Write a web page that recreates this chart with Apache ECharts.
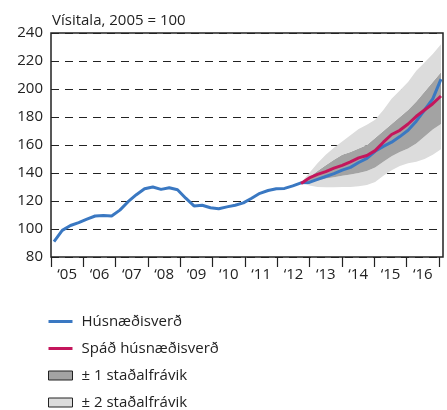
<!DOCTYPE html>
<html>
<head>
<meta charset="utf-8">
<script src="https://cdn.jsdelivr.net/npm/echarts@6/dist/echarts.min.js"></script>
<style>
  html, body { margin: 0; padding: 0; background: #fff; }
  #chart { width: 447px; height: 410px; }
</style>
</head>
<body>
<div id="chart"></div>
<script>
// quarters 2005Q1 .. 2016Q4
const years = ['05', '06', '07', '08', '09', '10', '11', '12', '13', '14', '15', '16'];
const quarters = [];
years.forEach(y => { for (let q = 1; q <= 4; q++) quarters.push('20' + y + 'Q' + q); });

// Húsnæðisverð (actual)
const actual = [
  91, 99, 102.5, 104.5, 107, 109.3, 109.6, 109.3,
  113.5, 119.5, 124.5, 128.7, 130, 128.3, 129.5, 128,
  122, 116.5, 117, 115.2, 114.5, 115.8, 117, 118.7,
  122, 125.5, 127.5, 128.8, 129, 130.8, 133, 133.3,
  135.5, 137.5, 139.5, 142, 144, 147.5, 150.5, 155.5,
  159, 162, 166, 170.5, 177, 185, 193, 207
];

// forecast starts at 2012Q3
const forecastStart = '2012Q3';
const forecast = [
  132.5, 136.5, 139, 141, 143.5, 145.5, 148, 150.8, 152.5,
  156, 162, 167.5, 170.5, 175, 180.5, 185, 189.5, 195
];
const upper2 = [
  133, 140, 147, 153, 158, 162.5, 167, 171.5, 174.5,
  178, 185, 193, 199, 205, 213, 219, 225, 232
];
const upper1 = [
  133, 137, 141.5, 145.5, 149.5, 153, 155, 157.5, 160,
  165, 170, 175, 180, 185, 191, 198, 205, 212
];
const lower1 = [
  133, 133, 134.5, 136, 137, 138, 139, 140, 141.5,
  144, 148, 152, 155, 157.5, 161, 166, 171, 175
];
const lower2 = [
  133, 131, 130, 129.8, 129.8, 130, 130, 130.5, 131.5,
  133.5, 138, 142, 145, 147, 148, 150, 153, 157
];

const yTicks = [80, 100, 120, 140, 160, 180, 200, 220, 240];

const off = quarters.indexOf(forecastStart);
const pad = arr => quarters.map((q, i) => (i < off ? '-' : arr[i - off]));
const diff = (a, b) => a.map((v, i) => +(v - b[i]).toFixed(2));

const FONT = '"Open Sans", sans-serif';
const DARK = '#a3a3a3';
const LIGHT = '#dcdcdc';

const chart = echarts.init(document.getElementById('chart'));
chart.setOption({
  animation: false,
  textStyle: { fontFamily: FONT },
  title: {
    text: 'Vísitala, 2005 = 100',
    left: 47, top: 8,
    textStyle: { fontFamily: FONT, fontSize: 15, fontWeight: 'normal', color: '#222' }
  },
  grid: [
    { left: 51, right: 4, top: 33, bottom: 153, show: true, borderColor: '#222', borderWidth: 1.5 },
    { left: 51, right: 8, top: 33, bottom: 153 },
    { left: 54, right: 6, top: 33, bottom: 153 }
  ],
  xAxis: [
    { gridIndex: 0, type: 'value', min: 0, max: 1, show: false },
    {
      gridIndex: 1, type: 'category', data: years.map(y => '\u2018' + y),
      boundaryGap: true,
      axisLine: { show: false },
      axisTick: { show: true, length: 10, lineStyle: { color: '#222', width: 1.2 } },
      axisLabel: { color: '#222', fontSize: 15, margin: 10, fontFamily: FONT }
    },
    { gridIndex: 2, type: 'category', data: quarters, boundaryGap: false, show: false }
  ],
  yAxis: [
    {
      gridIndex: 0, type: 'value', min: yTicks[0], max: yTicks[yTicks.length - 1], interval: 20,
      axisLine: { show: false }, axisTick: { show: false },
      axisLabel: { color: '#222', fontSize: 15, margin: 8, fontFamily: FONT },
      splitLine: { show: true, lineStyle: { color: '#222', type: [8, 6], width: 1.2 } }
    },
    { gridIndex: 1, type: 'value', min: 80, max: 240, show: false },
    { gridIndex: 2, type: 'value', min: 80, max: 240, show: false }
  ],
  legend: {
    orient: 'vertical', left: 48, top: 314, height: 96, padding: 0,
    itemWidth: 24, itemHeight: 9, itemGap: 12,
    textStyle: { fontSize: 15, lineHeight: 15, color: '#222', fontFamily: FONT, padding: [0, 0, 0, 4] },
    data: [
      { name: 'Húsnæðisverð', icon: 'path://M0,0 h24 v3 h-24 z' },
      { name: 'Spáð húsnæðisverð', icon: 'path://M0,0 h24 v3 h-24 z' },
      { name: '± 1 staðalfrávik', icon: 'rect', itemStyle: { color: DARK, borderColor: '#222', borderWidth: 1 } },
      { name: '± 2 staðalfrávik', icon: 'rect', itemStyle: { color: LIGHT, borderColor: '#222', borderWidth: 1 } }
    ]
  },
  series: [
    {
      type: 'line', xAxisIndex: 2, yAxisIndex: 2, stack: 'fan', symbol: 'none',
      data: pad(lower2), lineStyle: { opacity: 0 }, silent: true
    },
    {
      name: '± 2 staðalfrávik', type: 'line', xAxisIndex: 2, yAxisIndex: 2, stack: 'fan', symbol: 'none',
      data: pad(diff(lower1, lower2)), lineStyle: { opacity: 0 },
      itemStyle: { color: LIGHT }, areaStyle: { color: LIGHT, opacity: 1 }
    },
    {
      name: '± 1 staðalfrávik', type: 'line', xAxisIndex: 2, yAxisIndex: 2, stack: 'fan', symbol: 'none',
      data: pad(diff(upper1, lower1)), lineStyle: { opacity: 0 },
      itemStyle: { color: DARK }, areaStyle: { color: DARK, opacity: 1 }
    },
    {
      name: '± 2 staðalfrávik', type: 'line', xAxisIndex: 2, yAxisIndex: 2, stack: 'fan', symbol: 'none',
      data: pad(diff(upper2, upper1)), lineStyle: { opacity: 0 },
      itemStyle: { color: LIGHT }, areaStyle: { color: LIGHT, opacity: 1 }
    },
    {
      name: 'Húsnæðisverð', type: 'line', xAxisIndex: 2, yAxisIndex: 2, symbol: 'none',
      data: actual, itemStyle: { color: '#3a78c2' }, lineStyle: { color: '#3a78c2', width: 3 }
    },
    {
      name: 'Spáð húsnæðisverð', type: 'line', xAxisIndex: 2, yAxisIndex: 2, symbol: 'none',
      data: pad(forecast), itemStyle: { color: '#c4165c' }, lineStyle: { color: '#c4165c', width: 3 }
    }
  ]
});
</script>
</body>
</html>
